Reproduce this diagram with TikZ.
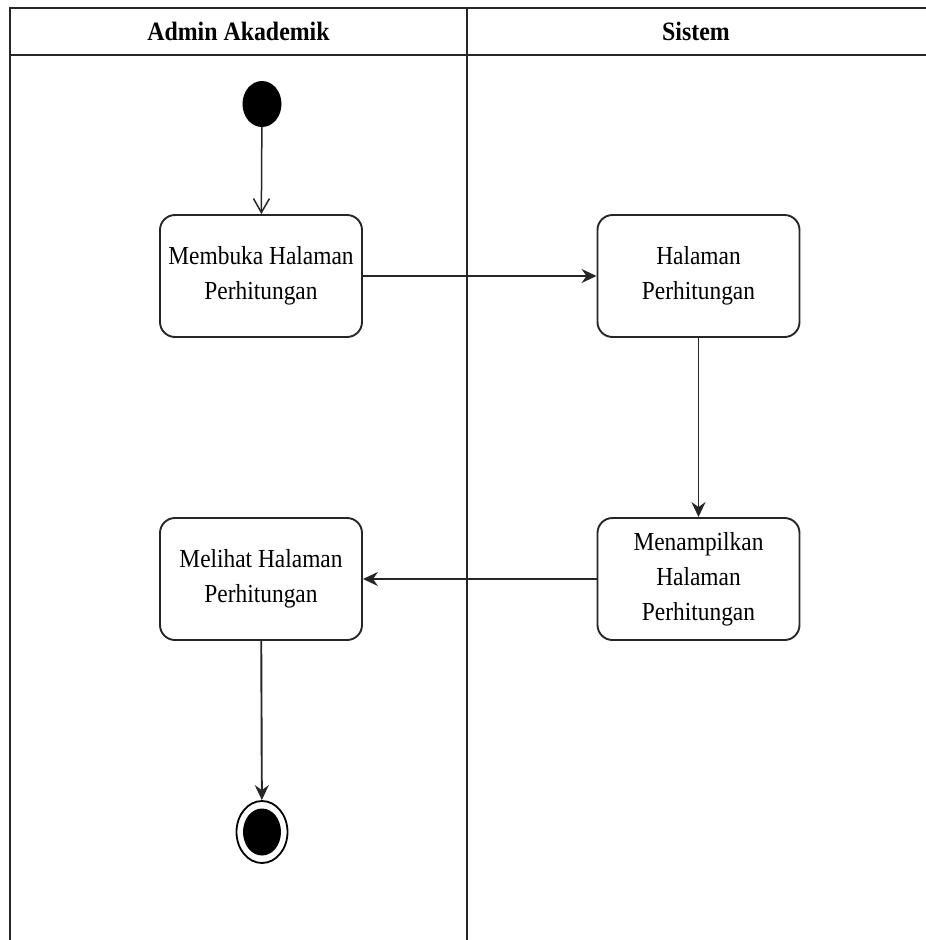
\documentclass[tikz,border=0pt]{standalone}
\usepackage{fontspec}
\setmainfont{Liberation Serif}[FakeStretch=0.9]
\usetikzlibrary{arrows.meta,shapes.geometric}
\begin{document}
\begin{tikzpicture}[x=1pt,y=-1pt,
  lane/.style={line width=2pt, draw=black!85},
  action/.style={draw=black!85, line width=1.9pt, rounded corners=15pt,
    minimum width=202pt, minimum height=122pt, align=center,
    font=\fontsize{26}{35}\selectfont, inner sep=0pt},
  lanetitle/.style={font=\fontsize{26.5}{30}\selectfont\bfseries},
  flow/.style={line width=1.9pt, draw=black!85, -{Stealth[length=15pt,width=14pt,inset=5pt]}},
  openflow/.style={line width=1.5pt, draw=black!85, -{Straight Barb[length=14pt,width=16pt]}}
]
\useasboundingbox (0,0) rectangle (926,940);

% swimlanes
\draw[lane] (10,940) -- (10,8) -- (926,8);
\draw[lane] (10,55) -- (926,55);
\draw[lane] (467,8) -- (467,940);
\node[lanetitle] (laneA) at (238.5,31.5) {Admin Akademik};
\node[lanetitle] (laneS) at (696,31.5) {Sistem};

% start and end
\node[fill=black, ellipse, minimum width=39pt, minimum height=46pt, inner sep=0pt] (start) at (262,104) {};
\node[draw=black, line width=1.8pt, ellipse, minimum width=51pt, minimum height=62pt, inner sep=0pt] (end) at (262,832) {};
\node[fill=black, ellipse, minimum width=38pt, minimum height=47pt, inner sep=0pt] (endcore) at (262,832) {};

% actions
\node[action] (open)  at (261,276) {Membuka Halaman\\Perhitungan};
\node[action] (page)  at (698.5,276) {Halaman\\Perhitungan};
\node[action] (show)  at (698.5,579) {Menampilkan\\Halaman\\Perhitungan};
\node[action] (view)  at (261,579) {Melihat Halaman\\Perhitungan};

% flows
\draw[openflow] (start) -- (open);
\draw[flow] (open) -- (page);
\draw[flow] (page) -- (show);
\draw[flow] (show) -- (view);
\draw[flow] (view) -- (end);
\end{tikzpicture}
\end{document}
